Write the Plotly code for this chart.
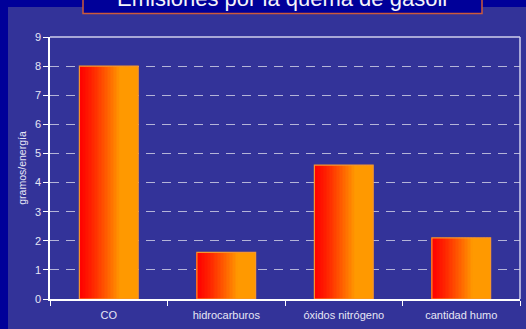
import plotly.graph_objects as go

# Data
categories = ["CO", "hidrocarburos", "óxidos nitrógeno", "cantidad humo"]
values = [8.0, 1.6, 4.6, 2.1]
y_ticks = [0, 1, 2, 3, 4, 5, 6, 7, 8, 9]

title_text = "Emisiones por la quema de gasoil"
y_title = "gramos/energía"

# Figure geometry (pixels)
W, H = 526, 329
ML, MR, MT, MB = 50, 6, 37, 30
PW, PH = W - ML - MR, H - MT - MB


def px_x(p):
    return (p - ML) / PW


def px_y(p):
    return (H - MB - p) / PH


DARK = "#000099"
PANEL = "#333399"
FONT = "Arial, Liberation Sans, sans-serif"

fig = go.Figure()

# Horizontal red -> orange gradient built from thin bar slices
BAR_W = 0.5
N = 40
slice_w = BAR_W / N
for i in range(N):
    t = (i + 0.5) / N
    k = min(t / 0.7, 1.0)
    k = k ** 1.25
    g = int(round(153 * k))
    color = f"rgb(255,{g},0)"
    fig.add_trace(go.Bar(
        x=categories, y=values,
        width=slice_w * 1.15,
        offset=-BAR_W / 2 + i * slice_w,
        marker=dict(color=color, line=dict(width=0)),
        showlegend=False, hoverinfo="skip",
    ))

# Bar outline
fig.add_trace(go.Bar(
    x=categories, y=values, width=BAR_W, offset=-BAR_W / 2,
    marker=dict(color="rgba(0,0,0,0)", line=dict(color="#f5962e", width=1.2)),
    showlegend=False, hoverinfo="skip",
))

shapes = [
    # dark strips on the left and top edges
    dict(type="rect", xref="paper", yref="paper", layer="below",
         x0=px_x(-5), x1=px_x(8), y0=px_y(H + 5), y1=px_y(-5),
         fillcolor=DARK, line=dict(width=0)),
    dict(type="rect", xref="paper", yref="paper", layer="below",
         x0=px_x(-5), x1=px_x(W + 5), y0=px_y(7), y1=px_y(-5),
         fillcolor=DARK, line=dict(width=0)),
    # title box
    dict(type="rect", xref="paper", yref="paper", layer="below",
         x0=px_x(83), x1=px_x(482), y0=px_y(13.5), y1=px_y(-5),
         fillcolor=DARK, line=dict(color="#cc5a3a", width=1.5)),
    # top and right frame lines
    dict(type="line", xref="paper", yref="paper", x0=0, x1=1, y0=1, y1=1,
         line=dict(color="#d0d0ec", width=1.5)),
    dict(type="line", xref="paper", yref="paper", x0=1, x1=1, y0=0, y1=1,
         line=dict(color="#d0d0ec", width=1.5)),
]

fig.update_layout(
    width=W, height=H,
    margin=dict(l=ML, r=MR, t=MT, b=MB),
    paper_bgcolor=PANEL, plot_bgcolor=PANEL,
    barmode="overlay",
    font=dict(family=FONT, color="#e6e6f5", size=11),
    shapes=shapes,
    annotations=[dict(
        text=title_text, xref="paper", yref="paper",
        x=px_x(282), y=px_y(13), xanchor="center", yanchor="bottom",
        showarrow=False, font=dict(family=FONT, size=22, color="#f4f4fa"),
    )],
    xaxis=dict(
        type="category", range=[-0.5, 3.5],
        showline=True, linecolor="#ffffff", linewidth=1.5,
        ticks="outside", tickson="boundaries", ticklen=5, tickwidth=1.2,
        tickcolor="#ffffff", showgrid=False, ticklabelstandoff=5,
        tickfont=dict(size=11, color="#e6e6f5"),
    ),
    yaxis=dict(
        range=[0, 9], tickvals=y_ticks,
        showline=True, linecolor="#ffffff", linewidth=1.5,
        ticks="outside", ticklen=5, tickwidth=1.2, tickcolor="#ffffff",
        showgrid=True, gridcolor="#b4b4d8", gridwidth=1.2, griddash="9px,7px",
        zeroline=False,
        tickfont=dict(size=11, color="#e6e6f5"),
        title=dict(text=y_title, standoff=6, font=dict(size=10.5, color="#e6e6f5")),
    ),
)

fig.write_html("out.html")
